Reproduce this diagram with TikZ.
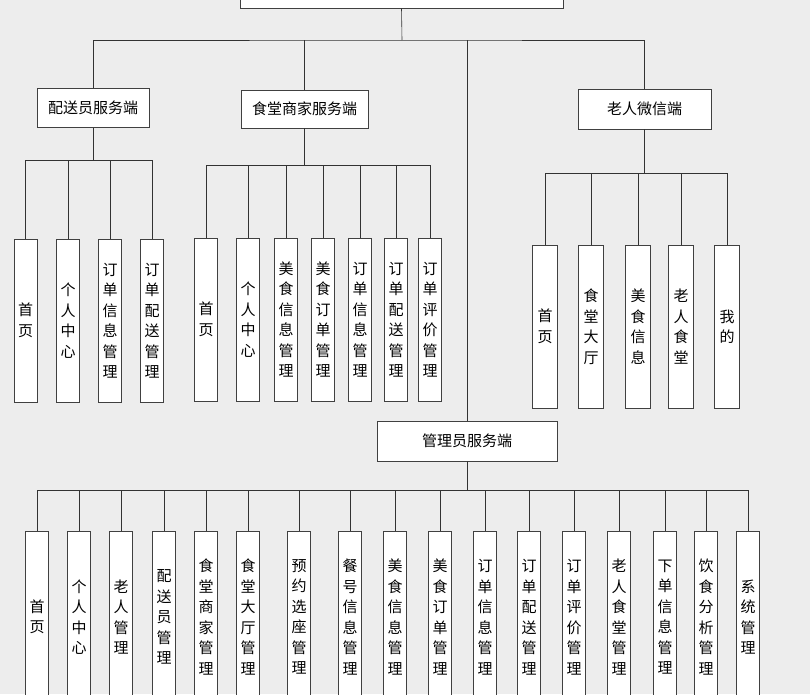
\documentclass[tikz,border=0pt]{standalone}
\usepackage{fontspec}
\setmainfont{Noto Sans CJK SC}
\usetikzlibrary{positioning}

\begin{document}
\begin{tikzpicture}
[x=1pt,y=-1pt,
head/.style ={rectangle, draw=black!75, thick, fill=white, font=\fontsize{15}{17}\selectfont,
inner sep=0pt},
leaf/.style ={rectangle, draw=black!75, thick, fill=white, font=\fontsize{15}{20.5}\selectfont,
inner sep=0pt, align=center},
wire/.style ={draw=black!80, semithick}]
\fill[white!93!black] (0,0) rectangle (810,694);
\useasboundingbox (0,0) rectangle (810,694);

% top level
\node (root) [head, minimum width=323, minimum height=40] at (401.5,-12) {};
\node (peisong) [head, minimum width=112, minimum height=39] at (93,108) {配送员服务端};
\node (shangjia) [head, minimum width=127, minimum height=38] at (304.5,109) {食堂商家服务端};
\node (laoren) [head, minimum width=133, minimum height=40] at (644.5,109) {老人微信端};
\node (admin) [head, minimum width=180, minimum height=40] at (467,441) {管理员服务端};

\coordinate (bar) at (402,40);
\draw[wire] (root.south) -- (bar);
\draw[wire] (peisong.north) |- (bar) -| (laoren.north);
\draw[wire] (shangjia.north) -- (shangjia.north |- bar);
\draw[wire] (admin.north) -- (admin.north |- bar);

% 配送员服务端
\coordinate (pbar) at (93,160);
\draw[wire] (peisong.south) -- (pbar);
\foreach \x/\t [count=\i] in {25.5/首\\页, 68/个\\人\\中\\心, 110/订\\单\\信\\息\\管\\理, 152/订\\单\\配\\送\\管\\理}
{
  \node (p\i) [leaf, minimum width=23, minimum height=163] at (\x,320.5) {\t};
  \draw[wire] (p\i.north) -- (p\i.north |- pbar);
}
\draw[wire] (p1.north |- pbar) -- (p4.north |- pbar);

% 食堂商家服务端
\coordinate (sbar) at (304.5,165);
\draw[wire] (shangjia.south) -- (sbar);
\foreach \x/\t [count=\i] in {206/首\\页, 248/个\\人\\中\\心, 286/美\\食\\信\\息\\管\\理, 323/美\\食\\订\\单\\管\\理, 360/订\\单\\信\\息\\管\\理, 396/订\\单\\配\\送\\管\\理, 430/订\\单\\评\\价\\管\\理}
{
  \node (s\i) [leaf, minimum width=23, minimum height=163] at (\x,319.5) {\t};
  \draw[wire] (s\i.north) -- (s\i.north |- sbar);
}
\draw[wire] (s1.north |- sbar) -- (s7.north |- sbar);

% 老人微信端
\coordinate (lbar) at (644.5,173);
\draw[wire] (laoren.south) -- (lbar);
\foreach \x/\t [count=\i] in {545/首\\页, 591/食\\堂\\大\\厅, 638/美\\食\\信\\息, 681/老\\人\\食\\堂, 727/我\\的}
{
  \node (l\i) [leaf, minimum width=25, minimum height=163] at (\x,326.5) {\t};
  \draw[wire] (l\i.north) -- (l\i.north |- lbar);
}
\draw[wire] (l1.north |- lbar) -- (l5.north |- lbar);

% 管理员服务端
\coordinate (abar) at (467,490);
\draw[wire] (admin.south) -- (abar);
\foreach \x/\t [count=\i] in {37/首\\页, 79/个\\人\\中\\心, 121/老\\人\\管\\理, 164/配\\送\\员\\管\\理,
  206/食\\堂\\商\\家\\管\\理, 248/食\\堂\\大\\厅\\管\\理, 299/预\\约\\选\\座\\管\\理, 350/餐\\号\\信\\息\\管\\理,
  395/美\\食\\信\\息\\管\\理, 440/美\\食\\订\\单\\管\\理, 485/订\\单\\信\\息\\管\\理, 529/订\\单\\配\\送\\管\\理,
  574/订\\单\\评\\价\\管\\理, 619/老\\人\\食\\堂\\管\\理, 665/下\\单\\信\\息\\管\\理, 706/饮\\食\\分\\析\\管\\理, 748/系\\统\\管\\理}
{
  \node (a\i) [leaf, minimum width=23, minimum height=172] at (\x,617) {\t};
  \draw[wire] (a\i.north) -- (a\i.north |- abar);
}
\draw[wire] (a1.north |- abar) -- (a17.north |- abar);
\end{tikzpicture}
\end{document}
